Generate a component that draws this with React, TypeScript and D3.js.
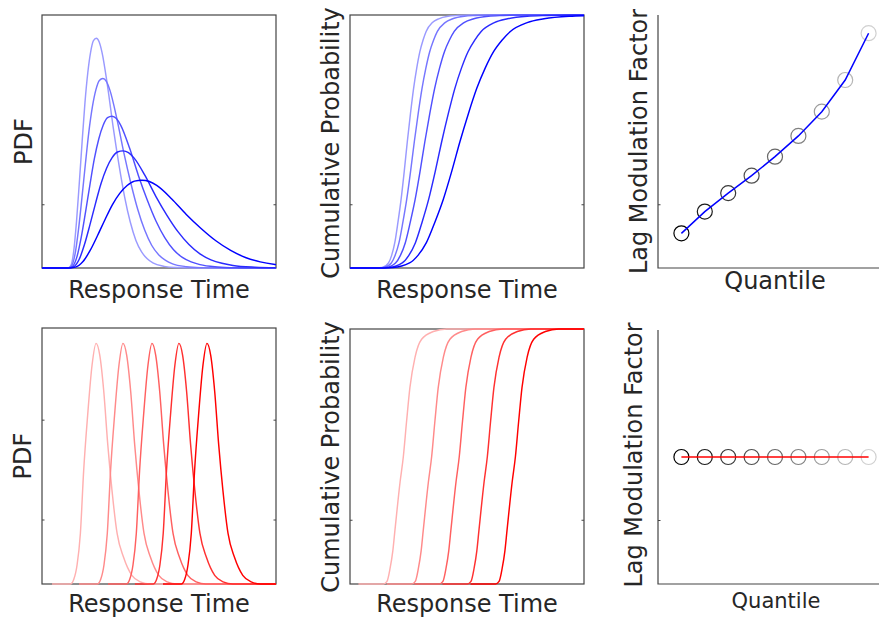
import React from 'react';
import * as d3 from 'd3';

// ---- colours ----
const blueShades = ['#9a9aff', '#7676ff', '#5050ff', '#2a2aff', '#0000ff'];
const redShades = ['#ffb0b0', '#ff8a8a', '#ff6060', '#ff3030', '#ff0000'];
const greyShades = ['#000000', '#1c1c1c', '#383838', '#505050', '#686868', '#808080', '#9c9c9c', '#b6b6b6', '#d0d0d0'];

// ---- top row: scaled distributions ----
const topShift = 0.111;
const topPdfModes = [0.232, 0.26, 0.299, 0.346, 0.427];
const topPdfPeaks = [0.908, 0.749, 0.6, 0.463, 0.347];
const topPdfShapeT = [0, 0.1, 0.2, 0.3, 0.4, 0.5, 0.6, 0.7, 0.8, 0.9, 1, 1.1, 1.2, 1.4, 1.6, 1.8, 2.0, 2.2, 2.4, 2.6, 2.8, 3.0, 3.4, 3.8, 4.5, 6];
const topPdfShapeF = [0, 0.01, 0.07, 0.2, 0.37, 0.55, 0.72, 0.85, 0.94, 0.99, 1, 0.985, 0.94, 0.79, 0.61, 0.45, 0.31, 0.2, 0.12, 0.07, 0.04, 0.022, 0.007, 0.002, 0, 0];

const topCdfMedians = [0.245, 0.275, 0.32, 0.392, 0.47];
const topCdfShapeU = [0, 0.2, 0.4, 0.5, 0.6, 0.7, 0.8, 0.9, 1.0, 1.1, 1.2, 1.3, 1.4, 1.5, 1.6, 1.8, 2.0, 2.3, 2.6, 3.0, 3.5, 6];
const topCdfShapeH = [0, 0.002, 0.02, 0.05, 0.1, 0.18, 0.27, 0.38, 0.5, 0.61, 0.71, 0.79, 0.855, 0.9, 0.935, 0.97, 0.985, 0.995, 0.998, 1, 1, 1];

// ---- bottom row: shifted distributions ----
const bottomPdfModes = [0.231, 0.346, 0.47, 0.585, 0.705];
const bottomPdfPeaks = [0.94, 0.94, 0.94, 0.94, 0.94];
const bottomPdfShapeD = [-0.188, -0.11, -0.095, -0.081, -0.067, -0.053, -0.036, -0.017, 0, 0.016, 0.033, 0.05, 0.068, 0.09, 0.118, 0.153, 0.189, 0.23, 0.9];
const bottomPdfShapeF = [0, 0, 0.02, 0.08, 0.21, 0.47, 0.7, 0.91, 1, 0.95, 0.8, 0.58, 0.39, 0.21, 0.11, 0.036, 0.009, 0, 0];

const bottomCdfMedians = [0.228, 0.349, 0.467, 0.587, 0.707];
const bottomCdfShapeD = [-0.192, -0.085, -0.07, -0.057, -0.045, -0.036, -0.014, 0, 0.014, 0.028, 0.05, 0.078, 0.128, 0.185, 0.9];
const bottomCdfShapeH = [0, 0, 0.01, 0.06, 0.13, 0.21, 0.4, 0.5, 0.64, 0.77, 0.89, 0.96, 0.99, 1, 1];

// ---- right column: lag modulation factor ----
const quantiles = [0.1, 0.2, 0.3, 0.4, 0.5, 0.6, 0.7, 0.8, 0.9];
const lmfTop = [0.137, 0.223, 0.296, 0.365, 0.44, 0.522, 0.618, 0.743, 0.928];
const lmfBottom = [0.5, 0.5, 0.5, 0.5, 0.5, 0.5, 0.5, 0.5, 0.5];

type Pt = [number, number];
type Box = { x: number; y: number; w: number; h: number };

const PANELS: Record<string, Box> = {
  tl: { x: 42, y: 15, w: 234, h: 253 },
  tm: { x: 350, y: 15, w: 234, h: 253 },
  tr: { x: 658, y: 15, w: 234, h: 253 },
  bl: { x: 42, y: 328, w: 234, h: 256 },
  bm: { x: 350, y: 329, w: 234, h: 255 },
  br: { x: 658, y: 330, w: 234, h: 254 },
};

const FONT = 'DejaVu Sans';
const TEXT = '#262626';
const AXIS = '#444444';

function scales(b: Box) {
  const xs = d3.scaleLinear().domain([0, 1]).range([b.x, b.x + b.w]);
  const ys = d3.scaleLinear().domain([0, 1]).range([b.y + b.h, b.y]);
  return { xs, ys };
}

function Frame({ id, b, full, ticks }: { id: string; b: Box; full: boolean; ticks: number[] }) {
  const { ys } = scales(b);
  return (
    <g>
      <defs>
        <clipPath id={id}>
          <rect x={b.x} y={b.y - 1} width={b.w} height={b.h + 2} />
        </clipPath>
      </defs>
      {full ? (
        <rect x={b.x} y={b.y} width={b.w} height={b.h} fill="none" stroke={AXIS} strokeWidth={1.2} />
      ) : (
        <path d={`M${b.x},${b.y}V${b.y + b.h}H${b.x + b.w}`} fill="none" stroke={AXIS} strokeWidth={1.2} />
      )}
      {ticks.map((t, i) => (
        <g key={i}>
          <line x1={b.x} x2={b.x + 2.5} y1={ys(t)} y2={ys(t)} stroke={AXIS} strokeWidth={1} />
          {full && <line x1={b.x + b.w - 2.5} x2={b.x + b.w} y1={ys(t)} y2={ys(t)} stroke={AXIS} strokeWidth={1} />}
        </g>
      ))}
    </g>
  );
}

function Curves({ id, b, sets, colors }: { id: string; b: Box; sets: Pt[][]; colors: string[] }) {
  const { xs, ys } = scales(b);
  const line = d3
    .line<Pt>()
    .x((d) => xs(d[0]))
    .y((d) => ys(d[1]))
    .curve(d3.curveMonotoneX);
  return (
    <g clipPath={`url(#${id})`}>
      {sets.map((pts, i) => (
        <path key={i} d={line(pts) || ''} fill="none" stroke={colors[i]} strokeWidth={1.45} />
      ))}
    </g>
  );
}

function LmfPanel({ b, values, lineColor }: { b: Box; values: number[]; lineColor: string }) {
  const { xs, ys } = scales(b);
  const line = d3
    .line<number>()
    .x((_, i) => xs(quantiles[i]))
    .y((d) => ys(d));
  return (
    <g>
      {values.map((v, i) => (
        <circle key={i} cx={xs(quantiles[i])} cy={ys(v)} r={7.5} fill="none" stroke={greyShades[i]} strokeWidth={1.2} />
      ))}
      <path d={line(values) || ''} fill="none" stroke={lineColor} strokeWidth={1.5} />
    </g>
  );
}

function YLabel({ x, y, text, size = 24 }: { x: number; y: number; text: string; size?: number }) {
  return (
    <text transform={`translate(${x},${y}) rotate(-90)`} textAnchor="middle" fontFamily={FONT} fontSize={size} fill={TEXT}>
      {text}
    </text>
  );
}

function XLabel({ x, y, text, size = 24 }: { x: number; y: number; text: string; size?: number }) {
  return (
    <text x={x} y={y} textAnchor="middle" fontFamily={FONT} fontSize={size} fill={TEXT}>
      {text}
    </text>
  );
}

export default function App() {
  const topPdf: Pt[][] = topPdfModes.map((m, i) => [
    [0, 0] as Pt,
    ...topPdfShapeT.map((t, k) => [topShift + (m - topShift) * t, topPdfPeaks[i] * topPdfShapeF[k]] as Pt),
  ]);
  const topCdf: Pt[][] = topCdfMedians.map((m) => [
    [0, 0] as Pt,
    ...topCdfShapeU.map((u, k) => [topShift + (m - topShift) * u, topCdfShapeH[k]] as Pt),
  ]);
  const bottomPdf: Pt[][] = bottomPdfModes.map((m, i) =>
    bottomPdfShapeD.map((d, k) => [m + d, bottomPdfPeaks[i] * bottomPdfShapeF[k]] as Pt)
  );
  const bottomCdf: Pt[][] = bottomCdfMedians.map((m) =>
    bottomCdfShapeD.map((d, k) => [m + d, bottomCdfShapeH[k]] as Pt)
  );

  const P = PANELS;
  return (
    <svg width={879} height={620} style={{ position: 'absolute', left: 0, top: 0, background: '#fff' }}>
      <rect width={879} height={620} fill="#fff" />
      <Frame id="c-tl" b={P.tl} full ticks={[0.25]} />
      <Frame id="c-tm" b={P.tm} full ticks={[0.25]} />
      <Frame id="c-tr" b={P.tr} full={false} ticks={[0.25]} />
      <Frame id="c-bl" b={P.bl} full ticks={[0.25, 0.64]} />
      <Frame id="c-bm" b={P.bm} full ticks={[0.25]} />
      <Frame id="c-br" b={P.br} full={false} ticks={[0.25]} />

      <Curves id="c-tl" b={P.tl} sets={topPdf} colors={blueShades} />
      <Curves id="c-tm" b={P.tm} sets={topCdf} colors={blueShades} />
      <Curves id="c-bl" b={P.bl} sets={bottomPdf} colors={redShades} />
      <Curves id="c-bm" b={P.bm} sets={bottomCdf} colors={redShades} />

      <LmfPanel b={P.tr} values={lmfTop} lineColor="#0000ff" />
      <LmfPanel b={P.br} values={lmfBottom} lineColor="#ff0000" />

      <YLabel x={32} y={141.5} text="PDF" />
      <YLabel x={339} y={143} text="Cumulative Probability" />
      <YLabel x={647} y={141.5} text="Lag Modulation Factor" />
      <YLabel x={31} y={456} text="PDF" />
      <YLabel x={339} y={457} text="Cumulative Probability" />
      <YLabel x={642} y={455} text="Lag Modulation Factor" />

      <XLabel x={159} y={298} text="Response Time" />
      <XLabel x={467} y={298} text="Response Time" />
      <XLabel x={775} y={289} text="Quantile" />
      <XLabel x={159} y={612} text="Response Time" />
      <XLabel x={467} y={612} text="Response Time" />
      <XLabel x={776} y={608} text="Quantile" size={21} />
    </svg>
  );
}
